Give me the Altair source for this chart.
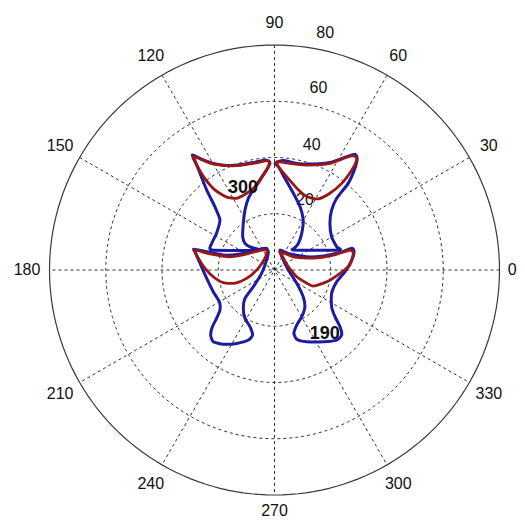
import altair as alt
import pandas as pd
import numpy as np

# ---- outlines (data units, polar plot radius 80) ----
ul_blue_x = [-29.1, -26.5, -21.8, -17.0, -12.3, -7.5, -3.4, -1.9, -2.2, -4.0, -6.9, -9.3, -10.5, -11.1, -11.3, -10.5, -8.7, -5.9, -22.2, -22.3, -20.6, -19.4, -21.2, -24.1, -26.5, -28.9]
ul_blue_y = [40.9, 39.7, 37.9, 37.2, 37.4, 38.2, 39.1, 38.5, 36.7, 33.8, 29.6, 25.5, 21.3, 16.6, 11.8, 9.5, 8.2, 7.1, 7.1, 9.5, 13.1, 17.8, 22.5, 28.4, 34.4, 40.3]
ul_red_x = [-28.9, -21.8, -14.7, -7.5, -2.6, -1.6, -3.4, -6.3, -9.9, -13.5, -17.0, -21.1, -24.8, -27.6]
ul_red_y = [40.3, 37.7, 37.0, 37.9, 38.9, 37.9, 34.7, 30.2, 27.3, 25.5, 25.9, 28.4, 32.6, 37.3]

ur_blue_x = [0.2, 3.1, 7.9, 13.8, 19.7, 25.7, 28.6, 29.4, 28.6, 26.2, 22.1, 20.3, 19.7, 20.3, 22.1, 22.9, 6.9, 7.3, 8.5, 9.7, 10.2, 9.1, 6.7, 3.7, 1.4]
ur_blue_y = [37.9, 38.9, 37.9, 37.7, 38.2, 40.3, 41.2, 39.7, 36.2, 30.8, 25.5, 21.3, 16.6, 11.8, 8.3, 7.1, 7.1, 8.0, 9.5, 13.1, 17.8, 22.5, 27.3, 32.6, 36.7]
ur_red_x = [0.8, 5.5, 12.6, 19.7, 25.7, 28.6, 29.2, 27.5, 23.9, 19.7, 15.6, 11.5, 7.9, 4.3, 1.4]
ur_red_y = [38.5, 37.9, 37.3, 37.9, 40.1, 40.5, 39.1, 35.6, 30.8, 27.3, 25.3, 26.1, 29.1, 33.2, 36.7]

ll_blue_x = [-28.6, -24.1, -18.2, -12.3, -6.3, -3.0, -2.2, -2.8, -4.6, -7.5, -10.5, -11.1, -10.5, -8.7, -7.8, -9.3, -13.4, -18.2, -21.8, -22.7, -22.1, -20.6, -19.4, -19.6, -21.8, -24.1, -26.5, -28.3]
ll_blue_y = [7.4, 6.5, 5.3, 5.7, 7.1, 7.7, 6.5, 3.6, -1.2, -5.9, -10.1, -13.6, -17.2, -20.2, -23.1, -24.9, -26.1, -26.4, -25.5, -23.1, -20.2, -17.2, -14.2, -11.3, -7.7, -3.0, 2.4, 6.5]
ll_red_x = [-28.3, -22.9, -15.8, -9.9, -4.6, -2.6, -3.4, -5.8, -9.9, -14.0, -18.2, -21.8, -24.7, -27.1]
ll_red_y = [7.1, 5.7, 4.7, 5.7, 7.1, 6.9, 4.2, 0.6, -3.0, -4.7, -4.5, -2.4, 0.6, 4.2]

lr_blue_x = [2.0, 5.5, 11.5, 17.4, 23.3, 27.5, 28.3, 27.5, 25.1, 22.1, 20.3, 20.3, 21.5, 23.3, 23.9, 22.1, 17.4, 11.5, 7.9, 6.9, 7.9, 9.7, 10.8, 10.2, 7.9, 4.9, 2.6]
lr_blue_y = [7.1, 5.7, 4.7, 5.0, 6.2, 7.7, 6.5, 3.6, -0.6, -4.2, -8.3, -13.1, -16.6, -20.2, -23.1, -24.9, -25.5, -25.5, -24.6, -22.5, -19.6, -16.6, -13.1, -9.5, -4.7, 0.0, 4.7]
lr_red_x = [2.0, 6.7, 13.8, 20.9, 26.8, 28.0, 26.8, 23.3, 18.6, 13.8, 11.5, 7.9, 4.9, 2.9]
lr_red_y = [6.5, 4.7, 4.2, 5.3, 7.1, 5.9, 1.8, -1.2, -4.2, -5.7, -4.7, -2.4, 1.2, 4.7]

# ---- grid / labels ----
ring_radii = [20, 40, 60]
outer_radius = 80
spoke_angles = [0, 30, 60, 90, 120, 150]
angle_labels = [0, 30, 60, 90, 120, 150, 180, 210, 240, 270, 300, 330]
angle_label_r = [84.5, 88, 88, 88, 88, 88, 88, 88, 88, 85.6, 88, 88]
ring_label_text = ["20", "40", "60", "80"]
ring_label_x = [10.8, 13.2, 15.6, 18.0]
ring_label_y = [24.9, 44.4, 64.6, 84.2]
note_text = ["300", "190"]
note_x = [-11.2, 17.9]
note_y = [29.0, -22.8]

W, H = 509, 514
XDOM = [-94.76, 86.22]
YDOM = [-89.6, 93.16]
xs = alt.Scale(domain=XDOM, nice=False, zero=False)
ys = alt.Scale(domain=YDOM, nice=False, zero=False)

def outline_df(x, y, name):
    return pd.DataFrame({"x": x, "y": y, "shape": name, "i": range(len(x))})

blue_df = pd.concat([outline_df(ul_blue_x, ul_blue_y, "ul"), outline_df(ur_blue_x, ur_blue_y, "ur"),
                     outline_df(ll_blue_x, ll_blue_y, "ll"), outline_df(lr_blue_x, lr_blue_y, "lr")])
red_df = pd.concat([outline_df(ul_red_x, ul_red_y, "ul"), outline_df(ur_red_x, ur_red_y, "ur"),
                    outline_df(ll_red_x, ll_red_y, "ll"), outline_df(lr_red_x, lr_red_y, "lr")])

t = np.arange(0, 361, 2)
rings = []
for r in ring_radii:
    rings.append(pd.DataFrame({"x": r * np.cos(np.radians(t)), "y": r * np.sin(np.radians(t)), "ring": r, "i": range(len(t))}))
rings_df = pd.concat(rings)
outer_df = pd.DataFrame({"x": outer_radius * np.cos(np.radians(t)), "y": outer_radius * np.sin(np.radians(t)), "i": range(len(t))})

spokes_df = pd.DataFrame({
    "x": [outer_radius * np.cos(np.radians(a)) for a in spoke_angles],
    "y": [outer_radius * np.sin(np.radians(a)) for a in spoke_angles],
    "x2": [-outer_radius * np.cos(np.radians(a)) for a in spoke_angles],
    "y2": [-outer_radius * np.sin(np.radians(a)) for a in spoke_angles],
})

alab_df = pd.DataFrame({
    "x": [r * np.cos(np.radians(a)) for a, r in zip(angle_labels, angle_label_r)],
    "y": [r * np.sin(np.radians(a)) for a, r in zip(angle_labels, angle_label_r)],
    "t": [str(a) for a in angle_labels],
})
rlab_df = pd.DataFrame({"x": ring_label_x, "y": ring_label_y, "t": ring_label_text})
note_df = pd.DataFrame({"x": note_x, "y": note_y, "t": note_text})

X = lambda f: alt.X(f, type="quantitative", scale=xs, axis=None)
Y = lambda f: alt.Y(f, type="quantitative", scale=ys, axis=None)

rings_layer = alt.Chart(rings_df).mark_line(color="#333333", strokeWidth=1, strokeDash=[3, 3]).encode(
    x=X("x"), y=Y("y"), detail="ring:N", order="i:Q")
outer_layer = alt.Chart(outer_df).mark_line(color="#3a3a3a", strokeWidth=1.2).encode(
    x=X("x"), y=Y("y"), order="i:Q")
spokes_layer = alt.Chart(spokes_df).mark_rule(color="#333333", strokeWidth=1, strokeDash=[3, 3]).encode(
    x=X("x"), y=Y("y"), x2="x2:Q", y2="y2:Q")
alab_layer = alt.Chart(alab_df).mark_text(font="Liberation Sans", fontSize=16, color="#111111",
                                          align="center", baseline="middle").encode(x=X("x"), y=Y("y"), text="t:N")
rlab_layer = alt.Chart(rlab_df).mark_text(font="Liberation Sans", fontSize=16, color="#111111",
                                          align="center", baseline="middle").encode(x=X("x"), y=Y("y"), text="t:N")
blue_layer = alt.Chart(blue_df).mark_line(color="#1c1ca2", strokeWidth=3, interpolate="cardinal-closed", tension=0.4).encode(
    x=X("x"), y=Y("y"), detail="shape:N", order="i:Q")
red_layer = alt.Chart(red_df).mark_line(color="#9a1717", strokeWidth=2.8, interpolate="cardinal-closed", tension=0.4).encode(
    x=X("x"), y=Y("y"), detail="shape:N", order="i:Q")
note_layer = alt.Chart(note_df).mark_text(font="Liberation Sans", fontSize=18, fontWeight="bold", color="#111111",
                                          align="center", baseline="middle").encode(x=X("x"), y=Y("y"), text="t:N")

chart = alt.layer(rings_layer, spokes_layer, outer_layer, alab_layer, rlab_layer, blue_layer, red_layer, note_layer).properties(
    width=W, height=H, autosize=alt.AutoSizeParams(type="none"), padding=0
).configure_view(stroke=None)

chart.save("out.html", embed_options={"renderer": "svg", "actions": False})
